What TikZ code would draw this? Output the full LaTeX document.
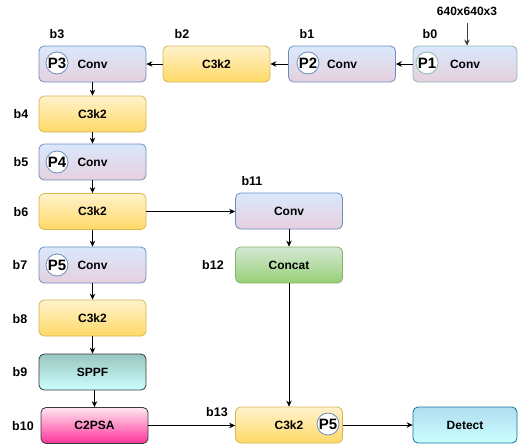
\documentclass[tikz,border=0pt]{standalone}
\usepackage{fontspec}
\setmainfont{Liberation Sans}
\usetikzlibrary{arrows.meta}

\definecolor{convtop}{HTML}{DAE8FC}
\definecolor{convbot}{HTML}{E6D0DE}
\definecolor{convline}{HTML}{6C8EBF}
\definecolor{inline}{HTML}{8FB8AE}
\definecolor{ctop}{HTML}{FFF2CC}
\definecolor{cbot}{HTML}{FFD966}
\definecolor{cline}{HTML}{D6B656}
\definecolor{gtop}{HTML}{D5E8D4}
\definecolor{gbot}{HTML}{97D077}
\definecolor{gline}{HTML}{82B366}
\definecolor{stop}{HTML}{9AC7BF}
\definecolor{sbot}{HTML}{CCFFFF}
\definecolor{ptop}{HTML}{FFE6F0}
\definecolor{pbot}{HTML}{FF3399}
\definecolor{dtop}{HTML}{B1DDF0}
\definecolor{dbot}{HTML}{CCFFFF}
\definecolor{dline}{HTML}{10739E}
\definecolor{darkline}{HTML}{36393D}

\tikzset{
  blk/.style={rounded corners=5pt, minimum width=107pt, minimum height=36pt,
    inner sep=0pt, line width=0.8pt, font=\bfseries\fontsize{12}{14}\selectfont},
  convbox/.style={blk, draw=convline, top color=convtop, bottom color=convbot},
  inbox/.style={convbox, draw=inline},
  c3box/.style={blk, draw=cline, top color=ctop, bottom color=cbot},
  catbox/.style={blk, draw=gline, top color=gtop, bottom color=gbot},
  sppfbox/.style={blk, draw=darkline, top color=stop, bottom color=sbot},
  psabox/.style={blk, draw=darkline, top color=ptop, bottom color=pbot},
  detbox/.style={blk, draw=dline, top color=dtop, bottom color=dbot},
  ptag/.style={circle, draw=convline, fill=white, minimum size=22pt, inner sep=0pt,
    line width=0.8pt, font=\bfseries\fontsize{15}{16}\selectfont},
  blabel/.style={font=\bfseries\fontsize{12.5}{14}\selectfont, inner sep=0pt},
  arr/.style={-{Stealth[length=6pt,width=5.5pt]}, line width=0.8pt}
}

\begin{document}
\begin{tikzpicture}[x=1pt, y=-1pt]
\useasboundingbox (0,0) rectangle (518,447);

% backbone, top row (right to left)
\node[inbox, minimum width=104pt] (b0) at (465,64) {Conv};
\node[convbox] (b1) at (342,64) {Conv};
\node[c3box] (b2) at (216.5,64) {C3k2};
\node[convbox] (b3) at (92.5,64) {Conv};

% backbone, left column
\node[c3box] (b4) at (92.5,114) {C3k2};
\node[convbox] (b5) at (92.5,162) {Conv};
\node[c3box] (b6) at (92.5,211.5) {C3k2};
\node[convbox] (b7) at (92.5,265) {Conv};
\node[c3box] (b8) at (92.5,318) {C3k2};
\node[sppfbox] (b9) at (92.5,372) {SPPF};
\node[psabox] (b10) at (94.5,425.5) {C2PSA};

% head
\node[convbox] (b11) at (289,211) {Conv};
\node[catbox] (b12) at (289,265) {Concat};
\node[c3box] (b13) at (289,425) {C3k2};
\node[detbox, minimum width=104pt] (det) at (465,425) {Detect};

% stage markers
\node[ptag, draw=inline] (p1) at (427,63) {P1};
\node[ptag] (p2) at (308,63) {P2};
\node[ptag] (p3) at (57,63) {P3};
\node[ptag] (p4) at (57,162) {P4};
\node[ptag] (p5) at (57,265) {P5};
\node[ptag] (p5h) at (328,424) {P5};

% block labels
\node[blabel] (l0) at (430,34) {b0};
\node[blabel] (l1) at (307,34) {b1};
\node[blabel] (l2) at (182,34) {b2};
\node[blabel] (l3) at (57,34) {b3};
\node[blabel] (l4) at (21,114) {b4};
\node[blabel] (l5) at (21,162) {b5};
\node[blabel] (l6) at (21,212) {b6};
\node[blabel] (l7) at (20,265) {b7};
\node[blabel] (l8) at (20,319) {b8};
\node[blabel] (l9) at (20,372) {b9};
\node[blabel] (l10) at (23,426) {b10};
\node[blabel] (l11) at (252,181) {b11};
\node[blabel] (l12) at (213,265) {b12};
\node[blabel] (l13) at (217,412) {b13};

% input size
\node[blabel, font=\bfseries\fontsize{12}{14}\selectfont] (inp) at (467,11) {640x640x3};
\coordinate (inarr) at (467,23);

% connectors
\draw[arr, draw=black!75] (inarr) -- (b0.north -| inarr);
\draw[arr] (b0) -- (b1);
\draw[arr] (b1) -- (b2);
\draw[arr] (b2) -- (b3);
\draw[arr] (b3) -- (b4);
\draw[arr] (b4) -- (b5);
\draw[arr] (b5) -- (b6);
\draw[arr] (b6) -- (b7);
\draw[arr] (b7) -- (b8);
\draw[arr] (b8) -- (b9);
\draw[arr] (b9.south -| b10) -- (b10.north);
\draw[arr] (b6.east) -- (b11.west |- b6.east);
\draw[arr] (b11) -- (b12);
\draw[arr] (b12) -- (b13);
\draw[arr] (b10.east) -- (b13.west |- b10.east);
\draw[arr] (b13) -- (det);
\end{tikzpicture}
\end{document}
